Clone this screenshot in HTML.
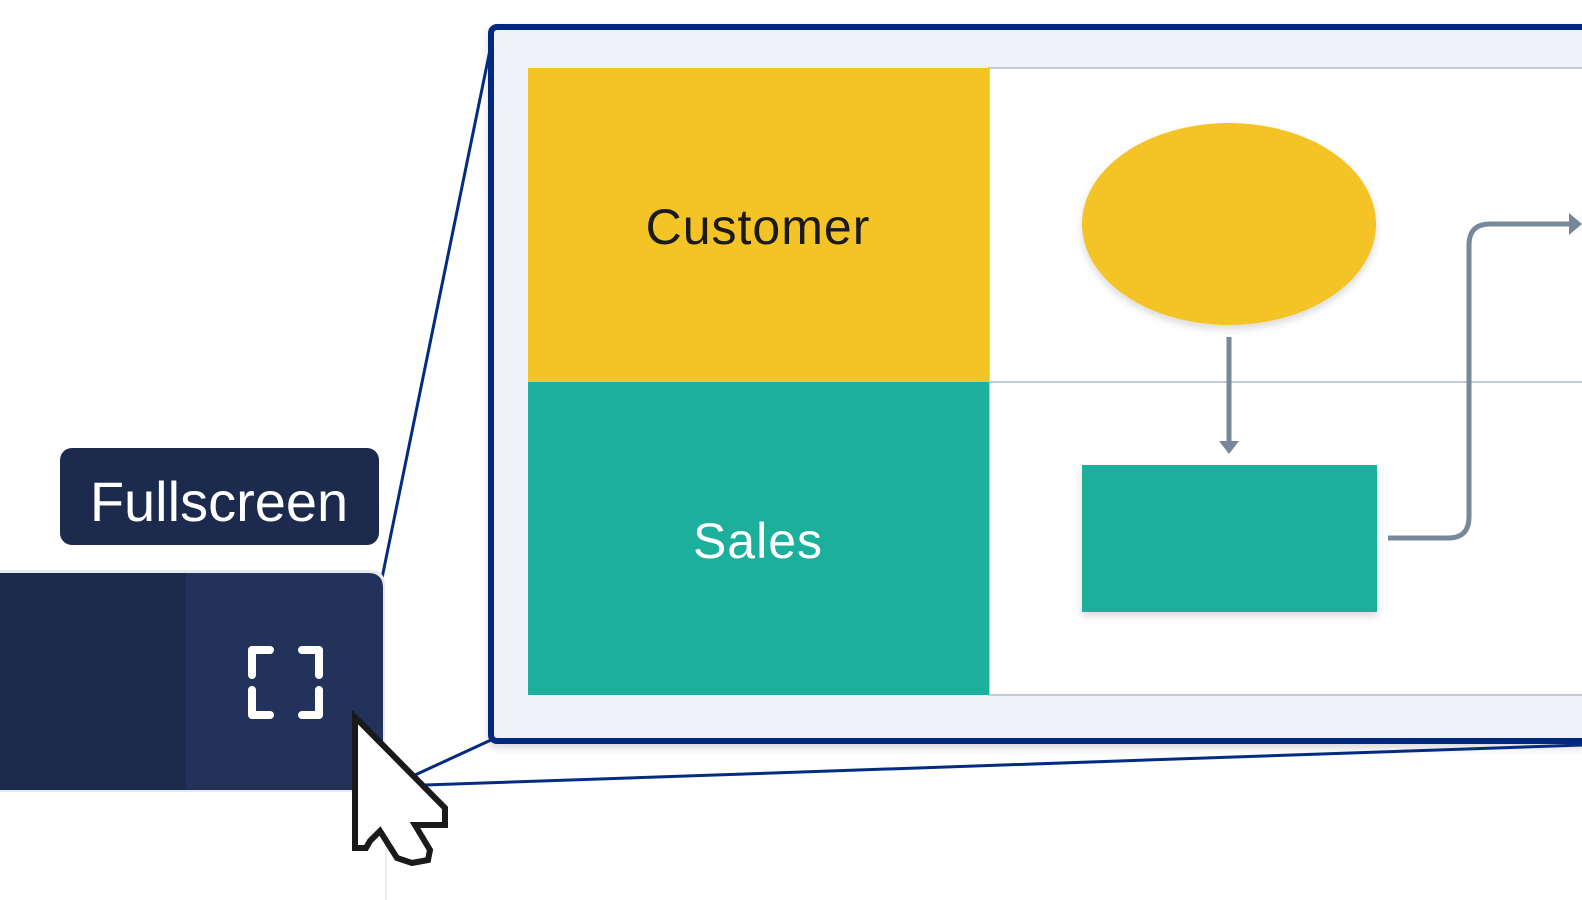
<!DOCTYPE html>
<html><head><meta charset="utf-8"><style>
html,body{margin:0;padding:0;background:#fff;width:1582px;height:900px;overflow:hidden}
svg{display:block}
</style></head><body>
<svg width="1582" height="900" viewBox="0 0 1582 900" xmlns="http://www.w3.org/2000/svg">
<defs>
<filter id="sh" x="-10%" y="-10%" width="120%" height="130%"><feDropShadow dx="0" dy="4" stdDeviation="4" flood-color="#000" flood-opacity="0.15"/></filter>
</defs>
<!-- frame -->
<rect x="491" y="27" width="1200" height="714" rx="6" fill="#eff3f7" stroke="#032b7f" stroke-width="6" filter="url(#sh)"/>
<!-- swimlane -->
<rect x="989" y="68" width="700" height="627" fill="#fff" stroke="#c3ccd6" stroke-width="2"/>
<line x1="989" y1="382" x2="1582" y2="382" stroke="#c3ccd6" stroke-width="2"/>
<rect x="528" y="68" width="461" height="314" fill="#f4c325"/>
<rect x="528" y="382" width="461" height="313" fill="#1baf9c"/>
<text x="758" y="244" font-family="Liberation Sans, sans-serif" font-size="50" fill="#1a1a1a" text-anchor="middle" letter-spacing="1">Customer</text>
<text x="758" y="558" font-family="Liberation Sans, sans-serif" font-size="50" fill="#fff" text-anchor="middle" letter-spacing="1">Sales</text>
<ellipse cx="1229" cy="224" rx="147" ry="101" fill="#f4c325" filter="url(#sh)"/>
<rect x="1082" y="465" width="295" height="147" fill="#1baf9c" filter="url(#sh)"/>
<line x1="1229" y1="337" x2="1229" y2="446" stroke="#78879a" stroke-width="5"/>
<polygon points="1219,441 1239,441 1229,454" fill="#78879a"/>
<path d="M1388 538 H1448 Q1469 538 1469 517 V245 Q1469 224 1490 224 H1570" fill="none" stroke="#78879a" stroke-width="5"/>
<polygon points="1569,213 1582,224 1569,235" fill="#78879a"/>
<!-- connector lines -->
<line x1="381" y1="583" x2="491" y2="45" stroke="#032b7f" stroke-width="3"/>
<line x1="415" y1="775" x2="491" y2="740" stroke="#032b7f" stroke-width="3"/>
<line x1="425" y1="785" x2="1582" y2="745" stroke="#032b7f" stroke-width="3"/>
<!-- toolbar -->
<path d="M0 570 H370 Q385 570 385 585 V792 H0 Z" fill="#e6e9ef"/>
<path d="M0 573 H368 Q383 573 383 588 V790 H0 Z" fill="#22325a"/>
<rect x="0" y="573" width="186" height="217" fill="#1b2a4d"/>
<line x1="386" y1="792" x2="386" y2="900" stroke="#eceef2" stroke-width="2"/>
<g fill="none" stroke="#fff" stroke-width="8" stroke-linecap="round" stroke-linejoin="round">
<path d="M252 675 V650 H270"/><path d="M302 650 H319 V675"/>
<path d="M252 690 V715 H270"/><path d="M302 715 H319 V690"/>
</g>
<!-- tooltip -->
<rect x="60" y="448" width="319" height="97" rx="12" fill="#1b2a4d"/>
<text x="219" y="521" font-family="Liberation Sans, sans-serif" font-size="56" fill="#fff" text-anchor="middle">Fullscreen</text>
<!-- cursor -->
<polygon points="355,717 355,848 366,848 370,841 380,831 397,858 412,863 428,860 430,850 415,825 445,825 445,808" fill="#fff" stroke="#1a1a1a" stroke-width="6" stroke-linejoin="miter"/>
</svg>
</body></html>
